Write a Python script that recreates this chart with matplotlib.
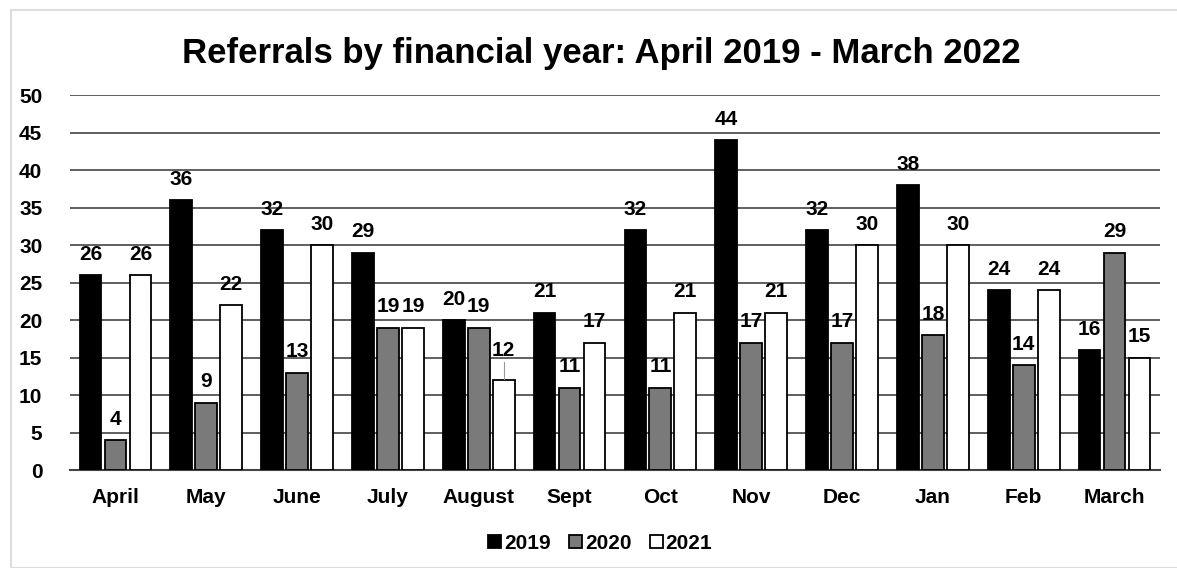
import numpy as np
import matplotlib.pyplot as plt
from matplotlib.patches import Rectangle

plt.rcParams['font.family'] = ['Liberation Sans', 'DejaVu Sans']
plt.rcParams['font.weight'] = 'bold'

months = ['April', 'May', 'June', 'July', 'August', 'Sept', 'Oct', 'Nov',
          'Dec', 'Jan', 'Feb', 'March']
y2019 = [26, 36, 32, 29, 20, 21, 32, 44, 32, 38, 24, 16]
y2020 = [4, 9, 13, 19, 19, 11, 11, 17, 17, 18, 14, 29]
y2021 = [26, 22, 30, 19, 12, 17, 21, 21, 30, 30, 24, 15]

fig = plt.figure(figsize=(11.77, 5.68), dpi=100)
fig.patches.append(Rectangle((0.009, 0.0), 0.995, 0.982, transform=fig.transFigure,
                             fill=False, edgecolor='#dddddd', linewidth=1.5))
ax = fig.add_axes([0.0595, 0.1725, 0.926, 0.66])

x = np.arange(len(months))
w = 0.24
step = 0.275
series = [(y2019, 'black', '2019'), (y2020, '#7a7a7a', '2020'), (y2021, 'white', '2021')]
for i, (vals, col, lab) in enumerate(series):
    bars = ax.bar(x + (i - 1) * step, vals, width=w, color=col, edgecolor='black',
                  linewidth=1.3, label=lab, zorder=3)
    for b, v in zip(bars, vals):
        cx = b.get_x() + b.get_width() / 2
        if lab == '2021' and v == 12:
            # lifted label with a small leader line
            ax.plot([cx, cx], [v + 0.2, v + 2.4], color='#999999', lw=0.8, zorder=4)
            ax.text(cx, v + 2.7, str(v), ha='center', va='bottom', fontsize=15,
                    fontweight='bold')
        else:
            ax.text(cx, v + 1.5, str(v), ha='center', va='bottom', fontsize=15,
                    fontweight='bold')

ax.set_xlim(-0.5, len(months) - 0.5)
ax.set_ylim(0, 50)
ax.set_yticks(range(0, 51, 5))
ax.yaxis.grid(True, color='#444444', linewidth=1.2, zorder=0)
ax.set_axisbelow(True)
ax.set_xticks(x)
ax.set_xticklabels(months, fontsize=15, fontweight='bold')
ax.tick_params(axis='y', labelsize=15, length=0, pad=20)
ax.tick_params(axis='x', length=0, pad=13)
for s in ['top', 'right', 'left']:
    ax.spines[s].set_visible(False)
ax.spines['bottom'].set_color('#444444')
ax.spines['bottom'].set_linewidth(1.5)

fig.text(0.511, 0.906, 'Referrals by financial year: April 2019 - March 2022',
         ha='center', va='center', fontsize=25, fontweight='bold')

fig.legend(loc='center', bbox_to_anchor=(0.51, 0.043), ncol=3, frameon=False,
           fontsize=15, handlelength=0.6, handleheight=0.6, handletextpad=0.15,
           columnspacing=0.9)

fig.savefig('out.png', dpi=100)
